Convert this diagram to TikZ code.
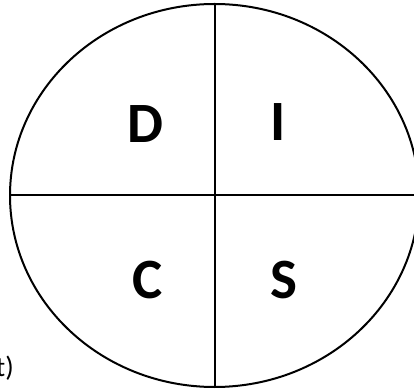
\documentclass[tikz,border=0pt]{standalone}
\usepackage{fontspec}
\setmainfont{Carlito}
\usetikzlibrary{shapes.geometric}
\begin{document}
\begin{tikzpicture}[x=1pt,y=1pt,
  outline/.style={line width=2pt,draw=black},
  letter/.style={font=\bfseries\fontsize{57}{60}\selectfont,inner sep=0pt,anchor=center}]
\useasboundingbox (0,0) rectangle (414,390);
\clip (0,0) rectangle (414,390);
\node[ellipse,outline,minimum width=409,minimum height=383,inner sep=0pt] (e) at (214.5,194.5) {};
\draw[outline] (e.north) -- (e.south);
\draw[outline] (e.west) -- (e.east);
\node[letter] (d) at (145.5,266) {D};
\node[letter] (i) at (278,268) {I};
\node[letter] (c) at (147.5,110) {C};
\node[letter] (s) at (284,110) {S};
\node[font=\fontsize{28}{30}\selectfont,anchor=base east,inner sep=0pt] (t) at (14,13) {t)};
\end{tikzpicture}
\end{document}
